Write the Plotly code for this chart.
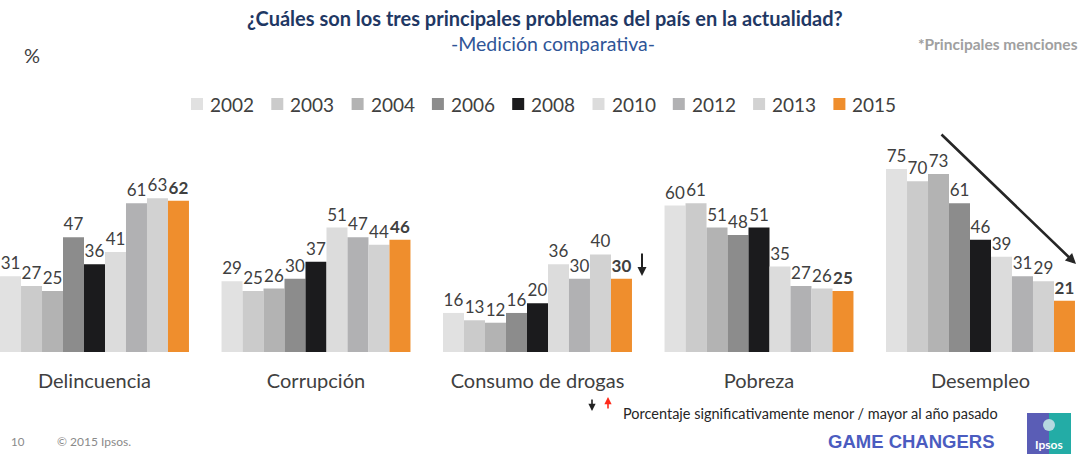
import plotly.graph_objects as go

# Problem categories and survey years
categories = ["Delincuencia", "Corrupción", "Consumo de drogas", "Pobreza", "Desempleo"]
years = ["2002", "2003", "2004", "2006", "2008", "2010", "2012", "2013", "2015"]

# Percent of mentions per year, one list per year across the categories
values_2002 = [31, 29, 16, 60, 75]
values_2003 = [27, 25, 13, 61, 70]
values_2004 = [25, 26, 12, 51, 73]
values_2006 = [47, 30, 16, 48, 61]
values_2008 = [36, 37, 20, 51, 46]
values_2010 = [41, 51, 36, 35, 39]
values_2012 = [61, 47, 30, 27, 31]
values_2013 = [63, 44, 40, 26, 29]
values_2015 = [62, 46, 30, 25, 21]

series = [values_2002, values_2003, values_2004, values_2006, values_2008,
          values_2010, values_2012, values_2013, values_2015]
colors = ["#e1e1e1", "#cbcbcb", "#b3b3b3", "#8c8c8c", "#1b1b1d",
          "#dcdcdc", "#b1b1b3", "#d2d2d2", "#ef8e2d"]

W, H = 1089, 454
TOP, BOTTOM = 130, 352          # plot area in pixels
PX_PER_UNIT = 2.44
Y_MAX = (BOTTOM - TOP) / PX_PER_UNIT
CAT_W = 221.5
FIRST_CENTER = 94.5
X_LO = -FIRST_CENTER / CAT_W
X_HI = (W - FIRST_CENTER) / CAT_W

FONT = "Lato"
TXT = "#404040"

# legend row layout (pixels)
LEG_X0, LEG_STEP, LEG_Y, LEG_BOX = 191, 80.3, 103, 12


def py(p):
    """Convert a pixel row to paper y."""
    return (BOTTOM - p) / (BOTTOM - TOP)


def px(p):
    return p / W


fig = go.Figure()
for yr, vals, col in zip(years, series, colors):
    tmpl = "<b>%{y}</b>" if yr == "2015" else "%{y}"
    fig.add_trace(go.Bar(
        name=yr, x=categories, y=vals,
        marker=dict(color=col, line=dict(width=0)),
        texttemplate=tmpl, textposition="outside",
        textfont=dict(family=FONT, size=17, color=TXT),
        constraintext="none", cliponaxis=False,
        hoverinfo="skip", showlegend=False,
    ))

annotations = [
    dict(text="<b>¿Cuáles son los tres principales problemas del país en la actualidad?</b>",
         x=px(545), y=py(18), xref="paper", yref="paper", showarrow=False,
         font=dict(family=FONT, size=20, color="#1f3864"), xanchor="center", yanchor="middle"),
    dict(text="-Medición comparativa-",
         x=px(553), y=py(43), xref="paper", yref="paper", showarrow=False,
         font=dict(family=FONT, size=19.5, color="#2f5597"), xanchor="center", yanchor="middle"),
    dict(text="<b>*Principales menciones</b>",
         x=px(1080), y=py(44), xref="paper", yref="paper", showarrow=False,
         font=dict(family=FONT, size=15.5, color="#a0a0a0"), xanchor="right", yanchor="middle"),
    dict(text="%", x=px(22), y=py(55), xref="paper", yref="paper", showarrow=False,
         font=dict(family=FONT, size=20, color=TXT), xanchor="left", yanchor="middle"),
    # significance arrow next to the 2015 drug consumption value
    dict(x=(642 - FIRST_CENTER) / CAT_W, y=(BOTTOM - 276) / PX_PER_UNIT, xref="x", yref="y",
         ax=0, ay=-24, showarrow=True, arrowhead=2, arrowsize=0.9, arrowwidth=2,
         arrowcolor="#222222", text=""),
    # downward trend arrow over unemployment
    dict(x=px(1076), y=py(264), xref="paper", yref="paper",
         ax=-136, ay=-131, showarrow=True, arrowhead=2, arrowsize=0.8, arrowwidth=2.6,
         arrowcolor="#262626", text=""),
    # footnote arrows and text
    dict(x=px(592), y=py(411), xref="paper", yref="paper", ax=0, ay=-13,
         showarrow=True, arrowhead=2, arrowsize=0.9, arrowwidth=1.6, arrowcolor="#222222", text=""),
    dict(x=px(608), y=py(397), xref="paper", yref="paper", ax=0, ay=13,
         showarrow=True, arrowhead=2, arrowsize=0.9, arrowwidth=1.6, arrowcolor="#ff2a1a", text=""),
    dict(text="Porcentaje significativamente menor / mayor al año pasado",
         x=px(621), y=py(413), xref="paper", yref="paper", showarrow=False,
         font=dict(family=FONT, size=14.5, color="#262626"), xanchor="left", yanchor="middle"),
    dict(text="10", x=px(9), y=py(441), xref="paper", yref="paper", showarrow=False,
         font=dict(family=FONT, size=11.5, color="#8a8a8a"), xanchor="left", yanchor="middle"),
    dict(text="© 2015 Ipsos.", x=px(55), y=py(441), xref="paper", yref="paper", showarrow=False,
         font=dict(family=FONT, size=12, color="#8a8a8a"), xanchor="left", yanchor="middle"),
    dict(text="<b>GAME CHANGERS</b>", x=px(997), y=py(441), xref="paper", yref="paper",
         showarrow=False, font=dict(family="Liberation Sans", size=18.5, color="#4b5cc0"),
         xanchor="right", yanchor="middle"),
    dict(text="<b>Ipsos</b>", x=px(1049), y=py(444), xref="paper", yref="paper",
         showarrow=False, font=dict(family=FONT, size=12, color="#ffffff"),
         xanchor="center", yanchor="middle"),
]

shapes = [
    # Ipsos logo blocks
    dict(type="rect", xref="paper", yref="paper", x0=px(1027), x1=px(1049),
         y0=py(454), y1=py(413), fillcolor="#5a5db6", line=dict(width=0), layer="above"),
    dict(type="rect", xref="paper", yref="paper", x0=px(1049), x1=px(1071),
         y0=py(454), y1=py(413), fillcolor="#23aca6", line=dict(width=0), layer="above"),
    dict(type="circle", xref="paper", yref="paper", x0=px(1043), x1=px(1055),
         y0=py(431), y1=py(419), fillcolor="#b5d9e0", line=dict(width=0), layer="above"),
]

# Year key: a swatch and label per series
for i, (yr, col) in enumerate(zip(years, colors)):
    x0 = LEG_X0 + i * LEG_STEP
    shapes.append(dict(type="rect", xref="paper", yref="paper",
                       x0=px(x0), x1=px(x0 + LEG_BOX),
                       y0=py(LEG_Y + LEG_BOX / 2 + 1), y1=py(LEG_Y - LEG_BOX / 2 + 1),
                       fillcolor=col, line=dict(width=0)))
    annotations.append(dict(text=yr, x=px(x0 + LEG_BOX + 5), y=py(LEG_Y + 1),
                            xref="paper", yref="paper", showarrow=False,
                            font=dict(family=FONT, size=19, color=TXT),
                            xanchor="left", yanchor="middle"))

fig.update_layout(
    width=W, height=H,
    margin=dict(l=0, r=0, t=TOP, b=H - BOTTOM),
    paper_bgcolor="white", plot_bgcolor="white",
    barmode="group", bargap=0.147, bargroupgap=0,
    font=dict(family=FONT, color=TXT),
    showlegend=False,
    xaxis=dict(type="category", range=[X_LO, X_HI], showgrid=False, showline=False,
               zeroline=False, ticks="", tickfont=dict(family=FONT, size=20, color=TXT),
               ticklabelstandoff=15),
    yaxis=dict(range=[0, Y_MAX], visible=False, showgrid=False, zeroline=False),
    annotations=annotations,
    shapes=shapes,
)

fig.write_html("out.html")
